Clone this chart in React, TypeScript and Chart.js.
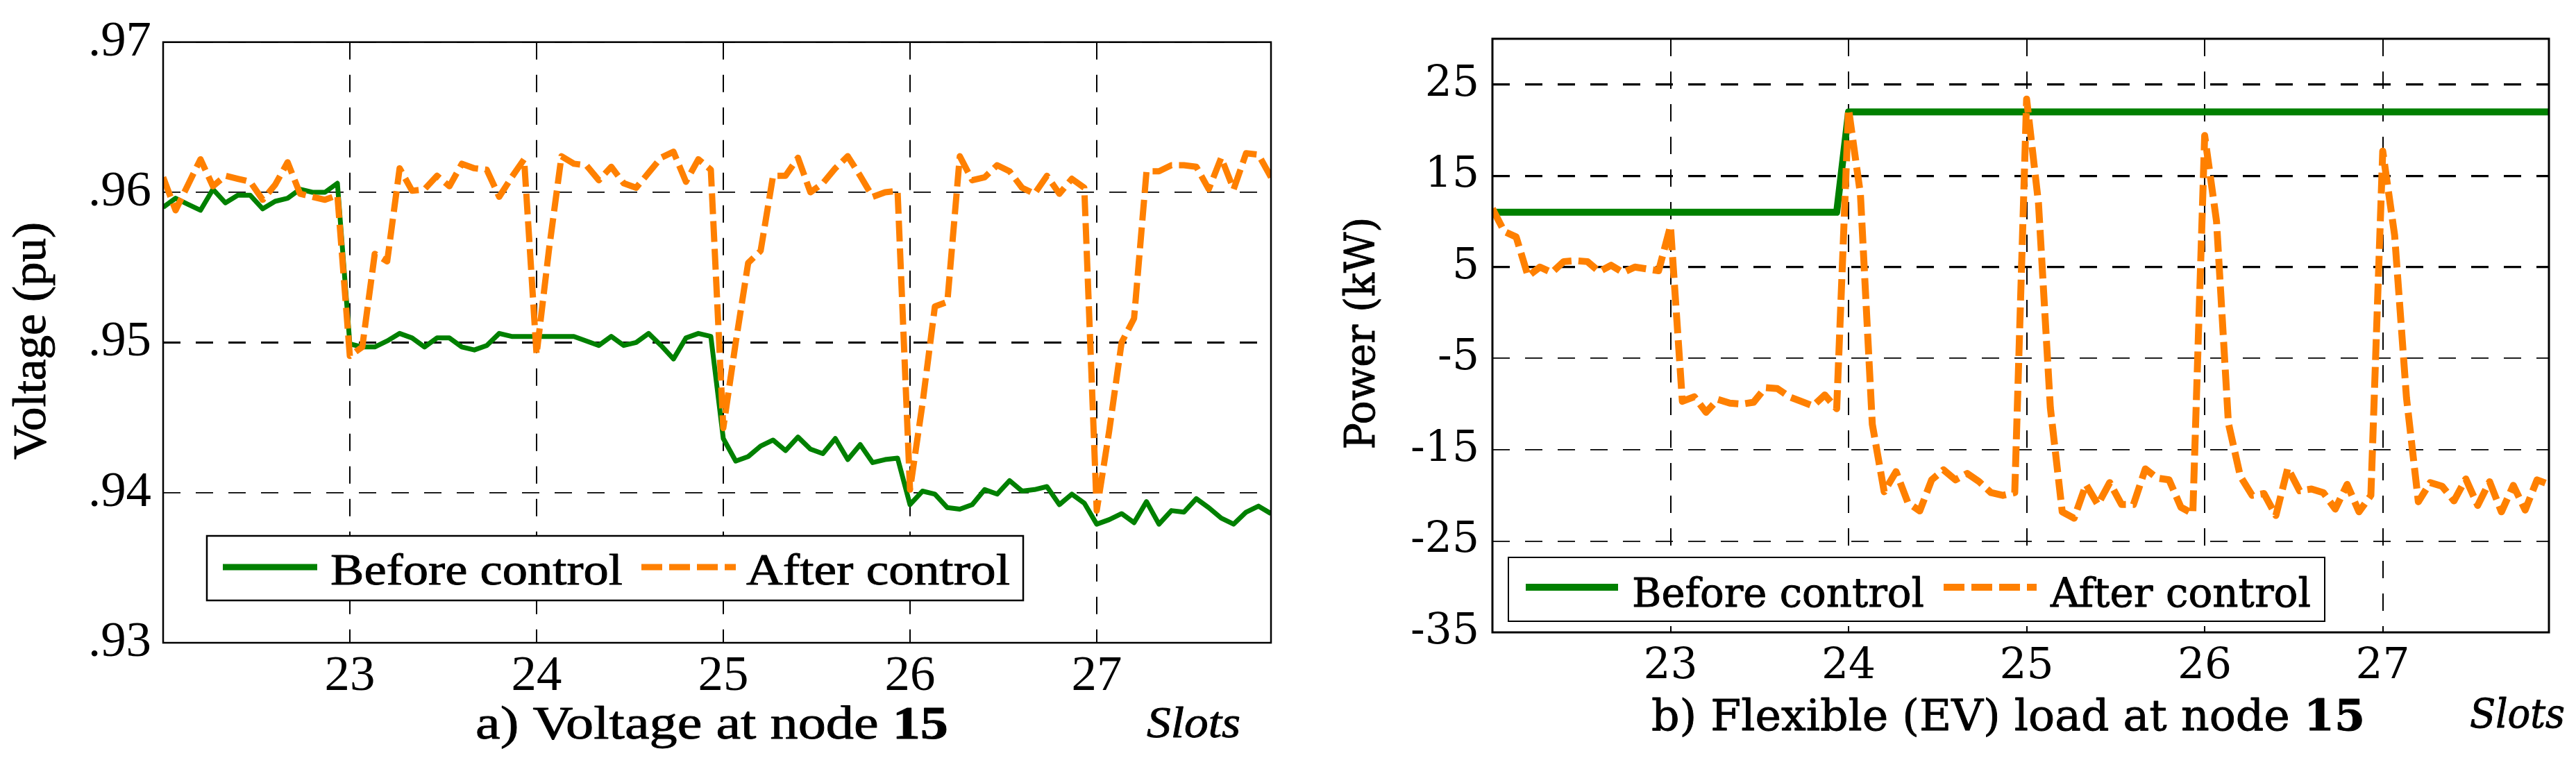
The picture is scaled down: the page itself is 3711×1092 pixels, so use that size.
import React, { useEffect, useRef } from 'react';
import { Chart, registerables } from 'chart.js';

Chart.register(...registerables);

// ---------------- data ----------------
const slotStart = 22;
const samplesPerSlot = 15;
const sampleCount = 90;
const slots = Array.from({ length: sampleCount }, (_, i) => slotStart + i / samplesPerSlot);
const slotTicks = [23, 24, 25, 26, 27];
const voltageTicks = [0.93, 0.94, 0.95, 0.96, 0.97];
const powerTicks = [-35, -25, -15, -5, 5, 15, 25];
const seriesLabels = ['Before control', 'After control'];

const voltageBefore = [
  0.9590, 0.9596, 0.9592, 0.9588, 0.9602, 0.9593, 0.9598, 0.9598, 0.9589, 0.9594, 0.9596, 0.9602, 0.9600, 0.9600, 0.9606,
  0.9499, 0.9497, 0.9497, 0.9501, 0.9506, 0.9503, 0.9497, 0.9503, 0.9503, 0.9497, 0.9495, 0.9498, 0.9506, 0.9504, 0.9504,
  0.9504, 0.9504, 0.9504, 0.9504, 0.9501, 0.9498, 0.9504, 0.9498, 0.9500, 0.9506, 0.9498, 0.9489, 0.9503, 0.9506, 0.9504,
  0.9436, 0.9421, 0.9424, 0.9431, 0.9435, 0.9428, 0.9437, 0.9429, 0.9426, 0.9436, 0.9422, 0.9432, 0.9420, 0.9422, 0.9423,
  0.9392, 0.9401, 0.9399, 0.9390, 0.9389, 0.9392, 0.9402, 0.9399, 0.9408, 0.9401, 0.9402, 0.9404, 0.9392, 0.9399, 0.9393,
  0.9379, 0.9382, 0.9386, 0.9380, 0.9394, 0.9379, 0.9388, 0.9387, 0.9396, 0.9390, 0.9383, 0.9379, 0.9387, 0.9391, 0.9386,
];

const voltageAfter = [
  0.9610, 0.9588, 0.9605, 0.9622, 0.9604, 0.9611, 0.9609, 0.9607, 0.9595, 0.9605, 0.9620, 0.9599, 0.9597, 0.9595, 0.9598,
  0.9491, 0.9497, 0.9559, 0.9554, 0.9616, 0.9601, 0.9602, 0.9611, 0.9604, 0.9619, 0.9616, 0.9615, 0.9597, 0.9610, 0.9622,
  0.9492, 0.9562, 0.9624, 0.9619, 0.9618, 0.9608, 0.9617, 0.9606, 0.9603, 0.9613, 0.9623, 0.9627, 0.9607, 0.9622, 0.9615,
  0.9443, 0.9500, 0.9553, 0.9561, 0.9611, 0.9611, 0.9623, 0.9600, 0.9606, 0.9616, 0.9624, 0.9611, 0.9597, 0.9600, 0.9601,
  0.9402, 0.9459, 0.9524, 0.9527, 0.9624, 0.9608, 0.9610, 0.9618, 0.9614, 0.9603, 0.9599, 0.9611, 0.9599, 0.9609, 0.9603,
  0.9388, 0.9441, 0.9500, 0.9516, 0.9614, 0.9614, 0.9618, 0.9618, 0.9617, 0.9602, 0.9623, 0.9602, 0.9626, 0.9625, 0.9610,
];

const powerBefore = [
  11, 11, 11, 11, 11, 11, 11, 11, 11, 11, 11, 11, 11, 11, 11,
  11, 11, 11, 11, 11, 11, 11, 11, 11, 11, 11, 11, 11, 11, 11,
  22, 22, 22, 22, 22, 22, 22, 22, 22, 22, 22, 22, 22, 22, 22,
  22, 22, 22, 22, 22, 22, 22, 22, 22, 22, 22, 22, 22, 22, 22,
  22, 22, 22, 22, 22, 22, 22, 22, 22, 22, 22, 22, 22, 22, 22,
  22, 22, 22, 22, 22, 22, 22, 22, 22, 22, 22, 22, 22, 22, 22,
];

const powerAfter = [
  11.4, 8.9, 8.3, 4.0, 5.0, 4.4, 5.6, 5.7, 5.6, 4.5, 5.2, 4.4, 5.0, 4.8, 4.6,
  9.5, -9.7, -9.2, -10.9, -9.5, -9.9, -10.0, -9.8, -8.2, -8.3, -9.2, -9.7, -10.2, -9.0, -10.5,
  22.3, 13.0, -12.2, -19.6, -17.4, -20.8, -21.7, -18.3, -17.2, -18.3, -17.6, -18.5, -19.7, -20.0, -19.7,
  23.4, 12.0, -10.4, -21.8, -22.5, -18.8, -21.0, -18.6, -21.0, -21.0, -17.1, -18.1, -18.3, -21.3, -22.0,
  19.4, 10.0, -12.1, -17.9, -20.0, -19.8, -22.2, -17.0, -19.5, -19.3, -19.7, -21.5, -18.8, -21.8, -20.0,
  17.7, 8.5, -9.3, -20.7, -18.6, -19.0, -20.6, -18.2, -21.1, -18.5, -21.8, -18.9, -21.6, -18.3, -18.8,
];

// ---------------- styles ----------------
const GREEN = '#008000';
const ORANGE = '#ff8000';
const CANVAS_H = 1092;
const TIMES_CANDIDATES = ['Liberation Serif', 'Times New Roman', 'Tinos', 'Nimbus Roman', 'FreeSerif', 'Noto Serif', 'DejaVu Serif'];
const WIDE_SERIF = "'DejaVu Serif'";

let measureCtx: CanvasRenderingContext2D | null = null;
function textWidth(text: string, font: string): number {
  if (!measureCtx) measureCtx = document.createElement('canvas').getContext('2d');
  if (!measureCtx) return text.length * 30;
  measureCtx.font = font;
  return measureCtx.measureText(text).width;
}

function fontAvailable(name: string): boolean {
  const sample = 'mmmmmmmmwwwwlliiWWQQ0123456789.()abcdefgh';
  for (const b of ['monospace', 'sans-serif', 'serif']) {
    const w0 = textWidth(sample, `72px ${b}`);
    const w1 = textWidth(sample, `72px "${name}", ${b}`);
    if (Math.abs(w1 - w0) > 0.5) return true;
  }
  return false;
}

function pickTimesFamily(): string {
  for (const n of TIMES_CANDIDATES) if (fontAvailable(n)) return `'${n}'`;
  return 'serif';
}

// font size whose natural width of `text` equals target
function fitSize(text: string, family: string, target: number): number {
  const w = textWidth(text, `100px ${family}`);
  return Math.max(40, Math.min(90, (100 * target) / w));
}

type TextSpec = { x: number; base: number; size: number; w: number };

type Panel = {
  width: number;
  padTop: number;
  padRight: number;
  yAxisWidth: number;
  xAxisHeight: number;
  family: string;
  tickSize: number;
  xTickPad: number;
  yTickPad: number;
  yMin: number;
  yMax: number;
  yTicks: number[];
  boldGrid: number[];
  gridThin: number;
  gridBold: number;
  yFormat: (v: number) => string;
  before: number[];
  after: number[];
  greenWidth: number;
  orangeWidth: number;
  frameWidth: number;
  yTitle: { text: string; bx: number; cy: number; size: number; len: number };
  legend: {
    dx: number; dyTop: number; w: number; h: number; lw: number;
    s1: [number, number]; s2: [number, number]; sDy: number; sampleW: number;
    t1: number; t1w: number; t2: number; t2w: number; tDy: number; size: number;
  };
  caption: { parts: [string, string]; x: number; base: number; size: number; w: number };
  slotsText: TextSpec;
};

function leftPanel(family: string): Panel {
  return {
    width: 1880,
    padTop: 44,
    padRight: 49,
    yAxisWidth: 235,
    xAxisHeight: 166,
    family,
    tickSize: fitSize('.96', family, 91),
    xTickPad: 5,
    yTickPad: 17,
    yMin: 0.93,
    yMax: 0.97,
    yTicks: voltageTicks,
    boldGrid: [0.95],
    gridThin: 1.8,
    gridBold: 3,
    yFormat: (v) => v.toFixed(2).replace(/^0/, ''),
    before: voltageBefore,
    after: voltageAfter,
    greenWidth: 7,
    orangeWidth: 9,
    frameWidth: 2.5,
    yTitle: { text: 'Voltage (pu)', bx: 65, cy: 491, size: 68, len: 342 },
    legend: {
      dx: 63, dyTop: 154, w: 1176, h: 93, lw: 2.5,
      s1: [86, 222], s2: [689, 825], sDy: 109, sampleW: 9,
      t1: 241, t1w: 421, t2: 840, t2w: 380, tDy: 84, size: 63,
    },
    caption: { parts: ['a) Voltage at node ', '15'], x: 685, base: 1064, size: 68, w: 681 },
    slotsText: { x: 1652, base: 1062, size: 63, w: 135 },
  };
}

function rightPanel(family: string): Panel {
  return {
    width: 1831,
    padTop: 44,
    padRight: 39,
    yAxisWidth: 270,
    xAxisHeight: 181,
    family,
    tickSize: fitSize('-35', family, 99),
    xTickPad: 13,
    yTickPad: 19,
    yMin: -35,
    yMax: 30,
    yTicks: powerTicks,
    boldGrid: [25, 15, 5],
    gridThin: 1.8,
    gridBold: 3.2,
    yFormat: (v) => String(v),
    before: powerBefore,
    after: powerAfter,
    greenWidth: 10,
    orangeWidth: 10,
    frameWidth: 3,
    yTitle: { text: 'Power (kW)', bx: 100, cy: 480, size: 60, len: 335 },
    legend: {
      dx: 23, dyTop: 108, w: 1176, h: 92, lw: 2,
      s1: [48, 181], s2: [650, 784], sDy: 65, sampleW: 10,
      t1: 201, t1w: 421, t2: 804, t2w: 375, tDy: 37, size: 58,
    },
    caption: { parts: ['b) Flexible (EV) load at node ', '15'], x: 499, base: 1052, size: 62, w: 1028 },
    slotsText: { x: 1678, base: 1048, size: 57, w: 137 },
  };
}

function drawScaled(ctx: CanvasRenderingContext2D, text: string, x: number, y: number, font: string, sx: number) {
  ctx.save();
  ctx.font = font;
  ctx.textAlign = 'left';
  ctx.textBaseline = 'alphabetic';
  ctx.fillStyle = '#000';
  ctx.strokeStyle = '#000';
  ctx.lineWidth = 0.9;
  ctx.lineJoin = 'round';
  ctx.translate(x, y);
  ctx.scale(sx, 1);
  ctx.fillText(text, 0, 0);
  ctx.strokeText(text, 0, 0);
  ctx.restore();
}

function drawFitted(ctx: CanvasRenderingContext2D, text: string, x: number, y: number, font: string, target: number) {
  const w = textWidth(text, font);
  drawScaled(ctx, text, x, y, font, target / w);
}

function makeDecorPlugin(p: Panel) {
  return {
    id: 'decor',
    afterDraw(chart: any) {
      const ctx: CanvasRenderingContext2D = chart.ctx;
      const ca = chart.chartArea;

      // plot frame
      ctx.save();
      ctx.strokeStyle = '#000';
      ctx.lineWidth = p.frameWidth;
      ctx.setLineDash([]);
      ctx.strokeRect(ca.left, ca.top, ca.right - ca.left, ca.bottom - ca.top);
      ctx.restore();

      // legend
      const L = p.legend;
      const bx = ca.left + L.dx;
      const by = ca.bottom - L.dyTop;
      ctx.save();
      ctx.fillStyle = '#fff';
      ctx.fillRect(bx, by, L.w, L.h);
      ctx.strokeStyle = '#000';
      ctx.lineWidth = L.lw;
      ctx.strokeRect(bx, by, L.w, L.h);
      const sy = ca.bottom - L.sDy;
      ctx.lineWidth = L.sampleW;
      ctx.lineCap = 'butt';
      ctx.strokeStyle = GREEN;
      ctx.beginPath();
      ctx.moveTo(ca.left + L.s1[0], sy);
      ctx.lineTo(ca.left + L.s1[1], sy);
      ctx.stroke();
      ctx.strokeStyle = ORANGE;
      ctx.setLineDash([30, 10]);
      ctx.beginPath();
      ctx.moveTo(ca.left + L.s2[0], sy);
      ctx.lineTo(ca.left + L.s2[1], sy);
      ctx.stroke();
      ctx.restore();
      const lf = `${L.size}px ${p.family}`;
      drawFitted(ctx, seriesLabels[0], ca.left + L.t1, ca.bottom - L.tDy, lf, L.t1w);
      drawFitted(ctx, seriesLabels[1], ca.left + L.t2, ca.bottom - L.tDy, lf, L.t2w);

      // y axis title (rotated)
      const T = p.yTitle;
      const tf = `${T.size}px ${p.family}`;
      const tsx = T.len / textWidth(T.text, tf);
      ctx.save();
      ctx.font = tf;
      ctx.fillStyle = '#000';
      ctx.strokeStyle = '#000';
      ctx.lineWidth = 0.9;
      ctx.textAlign = 'center';
      ctx.textBaseline = 'alphabetic';
      ctx.translate(T.bx, T.cy);
      ctx.rotate(-Math.PI / 2);
      ctx.scale(tsx, 1);
      ctx.fillText(T.text, 0, 0);
      ctx.strokeText(T.text, 0, 0);
      ctx.restore();

      // caption below plot: regular text + bold node number
      const C = p.caption;
      const f1 = `${C.size}px ${p.family}`;
      const f2 = `bold ${C.size}px ${p.family}`;
      const w1 = textWidth(C.parts[0], f1);
      const w2 = textWidth(C.parts[1], f2);
      const csx = C.w / (w1 + w2);
      drawScaled(ctx, C.parts[0], C.x, C.base, f1, csx);
      drawScaled(ctx, C.parts[1], C.x + w1 * csx, C.base, f2, csx);

      const S = p.slotsText;
      drawFitted(ctx, 'Slots', S.x, S.base, `italic ${S.size}px ${p.family}`, S.w);
    },
  };
}

function makeConfig(p: Panel): any {
  const font = { family: p.family, size: p.tickSize, lineHeight: 1.2 };
  return {
    type: 'line',
    data: {
      datasets: [
        {
          label: seriesLabels[0],
          data: slots.map((x, i) => ({ x, y: p.before[i] })),
          borderColor: GREEN,
          backgroundColor: GREEN,
          borderWidth: p.greenWidth,
          pointRadius: 0,
          tension: 0,
          fill: false,
          borderJoinStyle: 'round',
          order: 1,
        },
        {
          label: seriesLabels[1],
          data: slots.map((x, i) => ({ x, y: p.after[i] })),
          borderColor: ORANGE,
          backgroundColor: ORANGE,
          borderWidth: p.orangeWidth,
          borderDash: [30, 10],
          pointRadius: 0,
          tension: 0,
          fill: false,
          borderJoinStyle: 'round',
          order: 0,
        },
      ],
    },
    options: {
      animation: false,
      responsive: false,
      devicePixelRatio: 1,
      events: [],
      layout: { padding: { top: p.padTop, right: p.padRight, left: 0, bottom: 0 } },
      plugins: { legend: { display: false }, tooltip: { enabled: false }, title: { display: false } },
      scales: {
        x: {
          type: 'linear',
          min: slotStart,
          max: slots[slots.length - 1],
          afterBuildTicks: (s: any) => {
            s.ticks = slotTicks.map((value) => ({ value }));
          },
          afterFit: (s: any) => {
            s.height = p.xAxisHeight;
          },
          grid: { color: '#000', lineWidth: 2, drawTicks: false },
          border: { display: false, dash: [25, 22] },
          ticks: {
            color: '#000',
            font,
            padding: p.xTickPad,
            maxRotation: 0,
            autoSkip: false,
            callback: (v: any) => String(v),
          },
        },
        y: {
          type: 'linear',
          min: p.yMin,
          max: p.yMax,
          afterBuildTicks: (s: any) => {
            s.ticks = p.yTicks.map((value) => ({ value }));
          },
          afterFit: (s: any) => {
            s.width = p.yAxisWidth;
          },
          grid: {
            color: '#000',
            drawTicks: false,
            lineWidth: (c: any) =>
              c.tick && p.boldGrid.some((b) => Math.abs(b - c.tick.value) < 1e-6) ? p.gridBold : p.gridThin,
          },
          border: { display: false, dash: [25, 22] },
          ticks: {
            color: '#000',
            font,
            padding: p.yTickPad,
            autoSkip: false,
            callback: (v: any) => p.yFormat(Number(v)),
          },
          title: { display: false },
        },
      },
    },
    plugins: [makeDecorPlugin(p)],
  };
}

export default function App() {
  const leftRef = useRef<HTMLCanvasElement | null>(null);
  const rightRef = useRef<HTMLCanvasElement | null>(null);

  useEffect(() => {
    const timesFamily = pickTimesFamily();
    const charts: Chart[] = [];
    if (leftRef.current) charts.push(new Chart(leftRef.current, makeConfig(leftPanel(timesFamily))));
    if (rightRef.current) charts.push(new Chart(rightRef.current, makeConfig(rightPanel(WIDE_SERIF))));
    return () => {
      charts.forEach((c) => c.destroy());
    };
  }, []);

  return (
    <div
      style={{
        position: 'absolute',
        left: 0,
        top: 0,
        width: 3711,
        height: CANVAS_H,
        background: '#fff',
        overflow: 'hidden',
      }}
    >
      <canvas
        ref={leftRef}
        width={1880}
        height={CANVAS_H}
        style={{ position: 'absolute', left: 0, top: 0, width: 1880, height: CANVAS_H, display: 'block' }}
      />
      <canvas
        ref={rightRef}
        width={1831}
        height={CANVAS_H}
        style={{ position: 'absolute', left: 1880, top: 0, width: 1831, height: CANVAS_H, display: 'block' }}
      />
    </div>
  );
}
